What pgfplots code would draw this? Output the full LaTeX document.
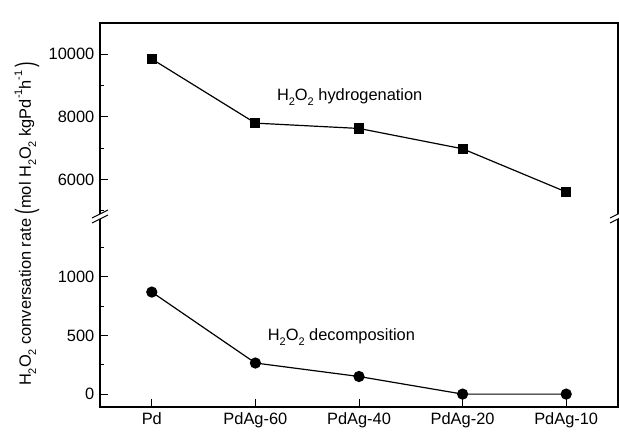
\documentclass[border=0pt]{standalone}
\usepackage{pgfplots}
\pgfplotsset{compat=1.18}
\usepackage{fontspec}
\setmainfont{Liberation Sans}
\usepackage{graphicx}

% chemical-formula subscript / superscript, set a little further from the baseline
\newcommand{\chsub}[1]{\raisebox{-0.6ex}{\fontsize{11}{11}\selectfont #1}}
\newcommand{\chsup}[1]{\raisebox{1.0ex}{\fontsize{11}{11}\selectfont #1}}

% H2O2 conversion rates per catalyst (x = 0..4: Pd, PdAg-60, PdAg-40, PdAg-20, PdAg-10)
\pgfplotstableread{
x y
0 9850
1 7800
2 7630
3 6980
4 5600
}\hydrogenation
\pgfplotstableread{
x y
0 870
1 265
2 150
3 0
4 0
}\decomposition

\begin{document}
\fontsize{16.4}{19}\selectfont
\begin{tikzpicture}
\useasboundingbox (-100pt,-30pt) rectangle (519pt,407pt);
\pgfplotsset{
  brk/.style={
    scale only axis, width=518pt,
    xmin=-0.5, xmax=4.5,
    axis line style={draw=none},
    tick align=inside, ytick pos=left,
    major tick length=8pt, minor tick length=4pt,
    tick style={black, line width=0.9pt},
    scaled y ticks=false,
    /pgf/number format/assume math mode=true,
    /pgf/number format/1000 sep={},
    clip=false,
  },
}
% lower part of the broken axis: decomposition
\begin{axis}[brk, name=lower,
  height=190pt, ymin=-110, ymax=1510,
  ytick={0,500,1000}, minor ytick={250,750,1250},
  xtick={0,1,2,3,4}, xtick pos=bottom,
  xticklabels={Pd,PdAg-60,PdAg-40,PdAg-20,PdAg-10},
]
\draw[line width=1.3pt] (rel axis cs:0,1) -- (rel axis cs:0,0) -- (rel axis cs:1,0) -- (rel axis cs:1,1);
\addplot[black, line width=1.2pt, mark=*, mark size=5pt] table[x=x, y=y] {\decomposition};
\node at (axis cs:1.83,487) {H\chsub{2}O\chsub{2} decomposition};
\end{axis}
% upper part of the broken axis: hydrogenation
\begin{axis}[brk, at={(lower.north west)}, anchor=south west,
  height=194pt, ymin=4800, ymax=11000,
  ytick={6000,8000,10000}, minor ytick={5000,7000,9000},
  xtick=\empty,
]
\draw[line width=1.3pt] (rel axis cs:0,0) -- (rel axis cs:0,1) -- (rel axis cs:1,1) -- (rel axis cs:1,0);
\addplot[black, line width=1.2pt, mark=square*, mark size=4.5pt] table[x=x, y=y] {\hydrogenation};
\node at (axis cs:1.91,8624) {H\chsub{2}O\chsub{2} hydrogenation};
\end{axis}
% break marks on both vertical axis lines
\foreach \bx in {0pt,518pt} {
  \fill[white] ([xshift=\bx]-8pt,184pt) -- ([xshift=\bx]8pt,192pt) -- ([xshift=\bx]8pt,197pt) -- ([xshift=\bx]-8pt,189pt) -- cycle;
  \draw[line width=1pt] ([xshift=\bx]-8pt,184pt) -- ([xshift=\bx]8pt,192pt);
  \draw[line width=1pt] ([xshift=\bx]-8pt,189pt) -- ([xshift=\bx]8pt,197pt);
}
% y axis title
\node[rotate=90] at (-73pt,183pt) {H\chsub{2}O\chsub{2} conversation rate \raisebox{-0.35ex}{\scalebox{1}[1.6]{(}}mol H\chsub{2}O\chsub{2} kgPd\chsup{-1}h\chsup{-1}\,\raisebox{-0.35ex}{\scalebox{1}[1.6]{)}}};
\end{tikzpicture}
\end{document}
